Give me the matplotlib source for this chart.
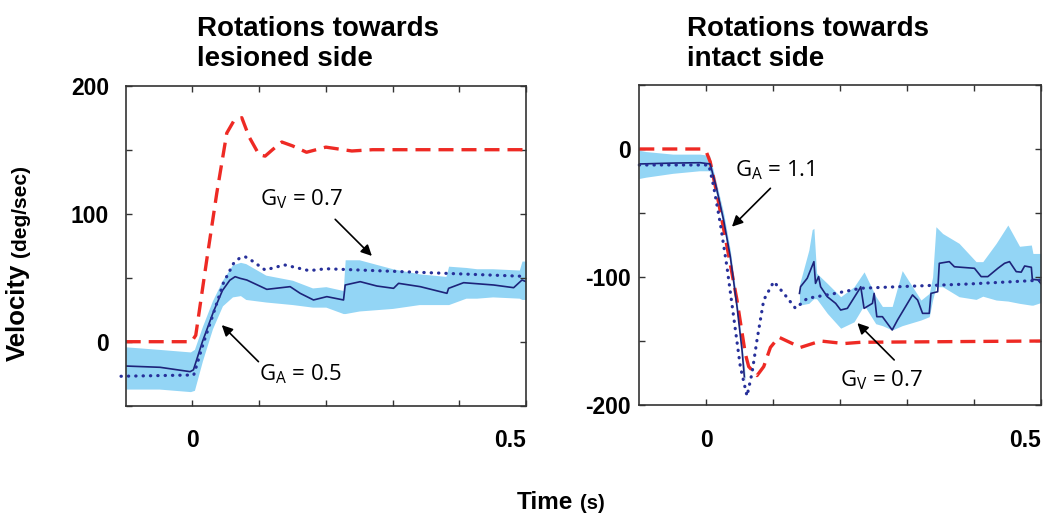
import matplotlib.pyplot as plt
import numpy as np

plt.rcParams['font.family'] = ['Liberation Sans', 'DejaVu Sans']
plt.rcParams['mathtext.fontset'] = 'custom'
plt.rcParams['mathtext.rm'] = 'Open Sans'

# ---- left panel: rotations towards lesioned side ----
t_red_L = [-0.1, -0.004, 0.0, 0.005, 0.0215, 0.0365, 0.0515, 0.0615, 0.074, 0.085, 0.1, 0.109, 0.12, 0.134, 0.15, 0.171, 0.2, 0.239, 0.27, 0.5]
v_red_L = [0, 0, 1, 5, 64, 116, 163, 172, 175, 160, 146, 145, 150, 156, 153, 148, 152, 149, 150, 150]

t_dot_L = [-0.107, 0.002, 0.0165, 0.0315, 0.0465, 0.0615, 0.07, 0.079, 0.09, 0.109, 0.138, 0.175, 0.2, 0.3, 0.4, 0.5]
v_dot_L = [-27, -26, -1, 22, 46, 61, 65, 66.4, 63, 56, 60, 55.5, 57, 55, 53, 51]

t_mean_L = [-0.1, -0.0485, -0.0035, 0.0015, 0.015, 0.0315, 0.045, 0.056, 0.064, 0.0715, 0.0815, 0.1115, 0.1465, 0.1615,
            0.1815, 0.2015, 0.2265, 0.229, 0.2515, 0.2765, 0.3015, 0.309, 0.3415, 0.3615, 0.3815, 0.384, 0.4065,
            0.4515, 0.4815, 0.494, 0.5]
v_mean_L = [-19, -20, -23.4, -22, 0, 23.4, 40, 48, 50.8, 49.5, 48.2, 40.9, 43, 37.8,
            32.6, 35.2, 32.6, 44.3, 46.9, 43.5, 41.7, 45.6, 43, 40.4, 37.8, 41.7, 46.1,
            44.3, 42.2, 48.2, 46.9]

t_band_L = [-0.1, -0.05, -0.003, 0.003, 0.015, 0.03, 0.045, 0.06, 0.072, 0.08, 0.11, 0.15, 0.18, 0.2, 0.226, 0.229,
            0.25, 0.3, 0.34, 0.38, 0.384, 0.41, 0.426, 0.45, 0.49, 0.494, 0.5]
hi_L = [-4, -6, -8, -6, 12, 32, 48, 60, 62, 61, 52, 48, 42, 43, 40, 64,
        64, 57, 53, 51, 59, 58, 57, 57, 56, 63, 63]
lo_L = [-37, -37, -39, -38, -15, 10, 28, 35, 36, 33, 31, 29, 27, 27, 22, 22,
        24, 26, 29, 29, 29, 34, 34, 35, 34, 33, 33]

# ---- right panel: rotations towards intact side ----
t_red_R = [-0.1, -0.008, 0.0, 0.006, 0.016, 0.031, 0.046, 0.0585, 0.0635, 0.076, 0.086, 0.096, 0.1085, 0.141, 0.171, 0.206, 0.231, 0.5]
v_red_R = [0, 0, -2, -10, -35, -76, -118, -160, -170, -177, -170, -155, -147, -155, -150, -152, -151, -150]

t_dot_R = [-0.1, 0.004, 0.011, 0.021, 0.031, 0.041, 0.051, 0.061, 0.0685, 0.076, 0.086, 0.101, 0.116, 0.1335, 0.151,
           0.191, 0.231, 0.291, 0.391, 0.507]
v_dot_R = [-12.5, -12.5, -29, -58, -92, -131, -170, -193, -175, -149, -118, -103.6, -112.8, -124.5, -116.7,
           -113, -108.8, -107.5, -105.5, -102.3]

t_mean_R1 = [-0.1, -0.05, -0.009, 0.006, 0.016, 0.026, 0.036, 0.046, 0.0535, 0.057]
v_mean_R1 = [-11.7, -11, -10.7, -11.7, -32, -55.5, -84, -123, -157, -178]

t_mean_R2 = [0.1394, 0.141, 0.151, 0.161, 0.1634, 0.168, 0.171, 0.181, 0.1935, 0.201, 0.211, 0.2284, 0.231, 0.236,
             0.2485, 0.251, 0.255, 0.2634, 0.278, 0.286, 0.3084, 0.316, 0.3234, 0.3334, 0.336, 0.346, 0.3484,
             0.3634, 0.371, 0.401, 0.411, 0.421, 0.436, 0.446, 0.4534, 0.4634, 0.4709, 0.476, 0.486, 0.4875,
             0.496, 0.5]
v_mean_R2 = [-112.8, -107.6, -101, -88, -105, -99.7, -107.6, -115.4, -120.6, -125.8, -124.5, -110, -107.6, -124.5,
             -120.6, -112.8, -131, -131, -141.4, -133.6, -114, -118, -128.4, -128.4, -112.8, -111.5, -89.3,
             -88, -92, -93.2, -99.7, -99.7, -93.2, -89.3, -88, -95.8, -96.2, -91.4, -92.4, -101.8,
             -102.3, -105]

t_band_R1 = [-0.1, -0.09, -0.05, -0.01, 0.005, 0.016, 0.026, 0.036, 0.046, 0.0535, 0.058]
hi_R1 = [-1, -2, -4, -4, -5, -28, -50, -79, -118, -152, -175]
lo_R1 = [-23, -22, -19, -17, -17, -37, -61, -90, -128, -162, -182]

t_band_R2 = [0.1394, 0.1534, 0.1584, 0.161, 0.165, 0.181, 0.201, 0.221, 0.236, 0.2534, 0.2634, 0.278, 0.293,
             0.321, 0.3334, 0.3384, 0.3434, 0.3534, 0.378, 0.4034, 0.4134, 0.4334, 0.4509, 0.4684, 0.486,
             0.4884, 0.5]
hi_R2 = [-106, -79, -63, -62, -97, -105, -115.4, -107.6, -96, -115, -123, -123, -95,
         -118, -112.8, -100, -60.7, -66, -73.7, -88, -88, -73.7, -59.4, -76, -75,
         -81.6, -81.6]
lo_R2 = [-122, -120.6, -118, -117, -117, -128.4, -140, -135, -122, -136.5, -138, -141.4, -138,
         -133.6, -131, -118, -107.6, -107.6, -115.4, -117.5, -115, -118, -118.8, -120.6, -122,
         -122, -120]

red = '#ee2a24'
dotc = '#27309a'
meanc = '#1d237a'
bandc = '#93d5f5'

fig = plt.figure(figsize=(10.5, 5.25), dpi=100)
axL = fig.add_axes([125.7 / 1050, 1 - 405.7 / 525, 400.3 / 1050, 320 / 525])
axR = fig.add_axes([639.3 / 1050, 1 - 405 / 525, 401.4 / 1050, 320 / 525])


def style(ax, pad_y):
    for s in ax.spines.values():
        s.set_linewidth(1.2)
        s.set_color('#333333')
    ax.tick_params(direction='in', top=True, right=True, length=4, width=1, color='#333333',
                   labelsize=16.5)
    ax.tick_params(axis='x', pad=17)
    ax.tick_params(axis='y', pad=pad_y)
    for lab in ax.get_xticklabels() + ax.get_yticklabels():
        lab.set_fontweight('bold')
    ax.get_xticklabels()[-1].set_horizontalalignment('right')


# left
axL.fill_between(t_band_L, lo_L, hi_L, color=bandc, lw=0)
axL.plot(t_red_L, v_red_L, color=red, lw=2.4, dashes=(4.5, 2.4))
axL.plot(t_mean_L, v_mean_L, color=meanc, lw=1.2)
axL.plot(t_dot_L, v_dot_L, color=dotc, lw=2.3, dashes=(0.1, 2.2), dash_capstyle='round', clip_on=False)
axL.set_xlim(-0.1, 0.5)
axL.set_ylim(-50, 200)
axL.set_xticks(np.arange(0, 0.51, 0.1))
axL.set_xticklabels(['0', '', '', '', '', '0.5'])
axL.set_yticks(np.arange(-50, 201, 50))
axL.set_yticklabels(['', '0', '', '100', '', '200'])
style(axL, 12)

# right
axR.fill_between(t_band_R1, lo_R1, hi_R1, color=bandc, lw=0)
axR.fill_between(t_band_R2, lo_R2, hi_R2, color=bandc, lw=0)
axR.plot(t_red_R, v_red_R, color=red, lw=2.4, dashes=(4.5, 2.4))
axR.plot(t_mean_R1, v_mean_R1, color=meanc, lw=1.2)
axR.plot(t_mean_R2, v_mean_R2, color=meanc, lw=1.2)
axR.plot(t_dot_R, v_dot_R, color=dotc, lw=2.3, dashes=(0.1, 2.2), dash_capstyle='round', clip_on=False)
axR.set_xlim(-0.1, 0.5)
axR.set_ylim(-200, 50)
axR.set_xticks(np.arange(0, 0.51, 0.1))
axR.set_xticklabels(['0', '', '', '', '', '0.5'])
axR.set_yticks(np.arange(-200, 51, 50))
axR.set_yticklabels(['-200', '', '-100', '', '0', ''])
style(axR, 6)

# annotations
arrow = dict(arrowstyle='-|>', color='black', lw=1.2, mutation_scale=16, shrinkA=0, shrinkB=0)
afont = dict(fontsize=16, family='Open Sans', ha='center', va='center')
axL.text(0.163, 111.5, r'G$_\mathrm{V}$ = 0.7', **afont)
axL.annotate('', xy=(0.269, 67), xytext=(0.214, 95.6), arrowprops=arrow)
axL.text(0.162, -25.5, r'G$_\mathrm{A}$ = 0.5', **afont)
axL.annotate('', xy=(0.044, 13), xytext=(0.099, -15.6), arrowprops=arrow)
axR.text(0.102, -16.4, r'G$_\mathrm{A}$ = 1.1', **afont)
axR.annotate('', xy=(0.0385, -60.7), xytext=(0.096, -30.7), arrowprops=arrow)
axR.text(0.262, -181, r'G$_\mathrm{V}$ = 0.7', **afont)
axR.annotate('', xy=(0.226, -136), xytext=(0.281, -164.8), arrowprops=arrow)

# titles
fig.text(197 / 1050, 1 - 16 / 525, 'Rotations towards\nlesioned side', fontsize=20, fontweight='bold',
         ha='left', va='top', linespacing=1.2)
fig.text(687 / 1050, 1 - 16 / 525, 'Rotations towards\nintact side', fontsize=20, fontweight='bold',
         ha='left', va='top', linespacing=1.2)

# axis labels
fig.text(18 / 1050, 1 - 312 / 525, 'Velocity', rotation=90, fontsize=18.5, fontweight='bold',
         ha='center', va='center')
fig.text(21 / 1050, 1 - 257 / 525, '(deg/sec)', rotation=90, fontsize=15, fontweight='bold',
         ha='center', va='bottom')
fig.text(517 / 1050, 1 - 509 / 525, 'Time', fontsize=17.5, fontweight='bold', ha='left', va='baseline')
fig.text(580 / 1050, 1 - 509 / 525, '(s)', fontsize=14.5, fontweight='bold', ha='left', va='baseline')

fig.savefig('out.png', dpi=100)
